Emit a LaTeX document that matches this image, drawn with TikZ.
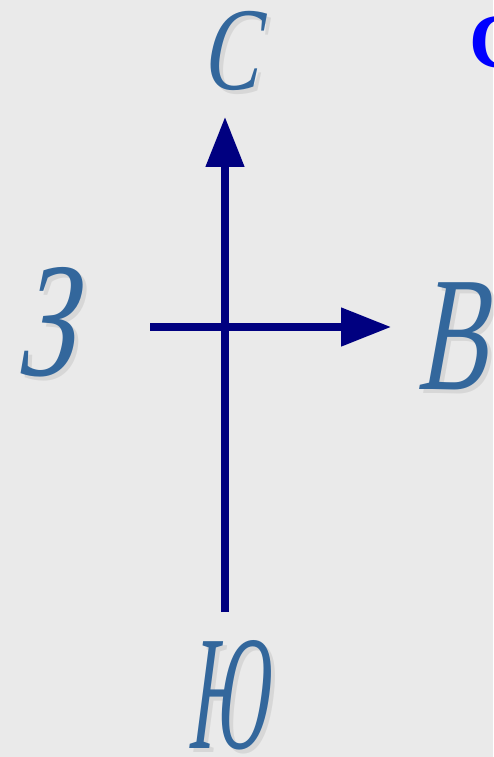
\documentclass[tikz,border=0pt]{standalone}
\usepackage{fontspec}
\usepackage{xcolor}
\usetikzlibrary{arrows.meta}
\newfontfamily\lblfont[FakeStretch=0.72,FakeSlant=0.2]{Liberation Serif}
\newfontfamily\ttlfont{Liberation Serif}
\definecolor{pagebg}{HTML}{EAEAEA}
\definecolor{lblblue}{HTML}{33679C}
\definecolor{axisnavy}{HTML}{000080}
\definecolor{ttlblue}{HTML}{0000FF}
\newcommand\narrow[2][0.65]{\scalebox{#1}[1]{#2}}

\begin{document}
\begin{tikzpicture}[
    x=0.01cm, y=-0.01cm,
    lbl/.style={inner sep=0pt, text=lblblue, font=\lblfont\fontsize{46.4pt}{50pt}\selectfont},
    lblsmall/.style={lbl, font=\lblfont\fontsize{33.6pt}{36pt}\selectfont},
    shade/.style={text=black, opacity=0.08},
    axis/.style={-{Triangle[length=14.2pt,width=10.6pt]}, line width=2pt, draw=axisnavy}
]
    \fill[pagebg] (0,0) rectangle (493,757);
    \useasboundingbox (0,0) rectangle (493,757);

    % title glyph, cut by the page edge
    \begin{scope}
        \clip (0,0) rectangle (493,757);
        \node[inner sep=0pt, anchor=west, text=ttlblue, font=\ttlfont\bfseries\fontsize{21.9pt}{24pt}\selectfont] (ttl) at (469,42) {С};
    \end{scope}

    % shadows
    \node[lblsmall, shade] at (234,55) {С};
    \node[lbl, shade] at (48,326) {З};
    \node[lbl, shade] at (456,340) {\narrow[0.9]{В}};
    \node[lbl, shade] at (231,699) {\narrow{Ю}};

    % cardinal points
    \node[lblsmall] (north) at (230,51) {С};
    \node[lbl] (west) at (44,322) {З};
    \node[lbl] (east) at (452,336) {\narrow[0.9]{В}};
    \node[lbl] (south) at (227,695) {\narrow{Ю}};

    % axes
    \coordinate (bot) at (225,612);
    \coordinate (top) at (225,117);
    \coordinate (lft) at (150,327);
    \coordinate (rgt) at (391,327);
    \draw[axis] (bot) -- (top);
    \draw[axis] (lft) -- (rgt);
\end{tikzpicture}
\end{document}
